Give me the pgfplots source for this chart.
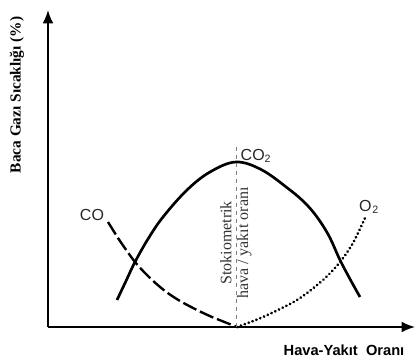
\documentclass[border=0pt]{standalone}
\usepackage{fontspec}
\setmainfont{Liberation Serif}
\newfontfamily\arial{Liberation Sans}
\usepackage{pgfplots}
\pgfplotsset{compat=1.18}
\usetikzlibrary{arrows.meta}

\begin{document}
\begin{tikzpicture}
\begin{axis}[
    x=0.75pt, y=0.75pt,
    xmin=48, xmax=415,
    ymin=37, ymax=354,
    axis lines=left,
    axis line style={line width=1.2pt, -{Latex[length=10pt,width=8pt]}},
    xtick=\empty, ytick=\empty,
    clip=false,
]
% CO2 (solid)
\addplot[black, line width=2pt, smooth, tension=0.6] coordinates {
    (117,64) (126,83) (135,102) (148,125) (163,147) (187,174) (210,192)
    (236,202) (262,194) (290,174) (305,161) (317,147) (329,128)
    (340,104) (350,85) (360,67)
};
% CO (dashed)
\addplot[black, line width=1.8pt, dash pattern=on 11pt off 3pt, smooth] coordinates {
    (108,142) (120,123) (135,102) (150,86) (165,73) (180,63)
    (197,54) (212,47) (227,41) (237,37)
};
% O2 (dotted)
\addplot[black, line width=2.2pt, dash pattern=on 0.1pt off 3pt, line cap=round, smooth] coordinates {
    (237,37) (263,47) (297,64) (323,84) (340,102) (353,121) (365,146)
};
% stoichiometric line
\addplot[gray, thin, dashed] coordinates {(236,37) (236,219)};

\node[font=\arial\fontsize{12}{14}\selectfont, gray!30!black] at (axis cs:92,149) {CO};
\node[font=\arial\fontsize{12}{14}\selectfont, gray!30!black] at (axis cs:256,208) {CO\textsubscript{2}};
\node[font=\arial\fontsize{12}{14}\selectfont, gray!30!black] at (axis cs:369,157) {O\kern0.5pt\textsubscript{2}};
\node[rotate=90, align=center, gray!40!black,
      font=\fontsize{12}{12.5}\selectfont] at (axis cs:236,121)
      {Stokiometrik\\hava / yakıt oranı};

\node[rotate=90, font=\bfseries\fontsize{11.5}{13}\selectfont] at (axis cs:17,269)
      {Baca Gazı Sıcaklığı (\%)};
\node[font=\arial\bfseries\fontsize{11}{13}\selectfont] at (axis cs:344,14)
      {Hava-Yakıt~~Oranı};

\coordinate (bl) at (axis cs:0,0);
\coordinate (tr) at (axis cs:418,364);
\end{axis}
\path (bl) rectangle (tr);
\end{tikzpicture}
\end{document}
